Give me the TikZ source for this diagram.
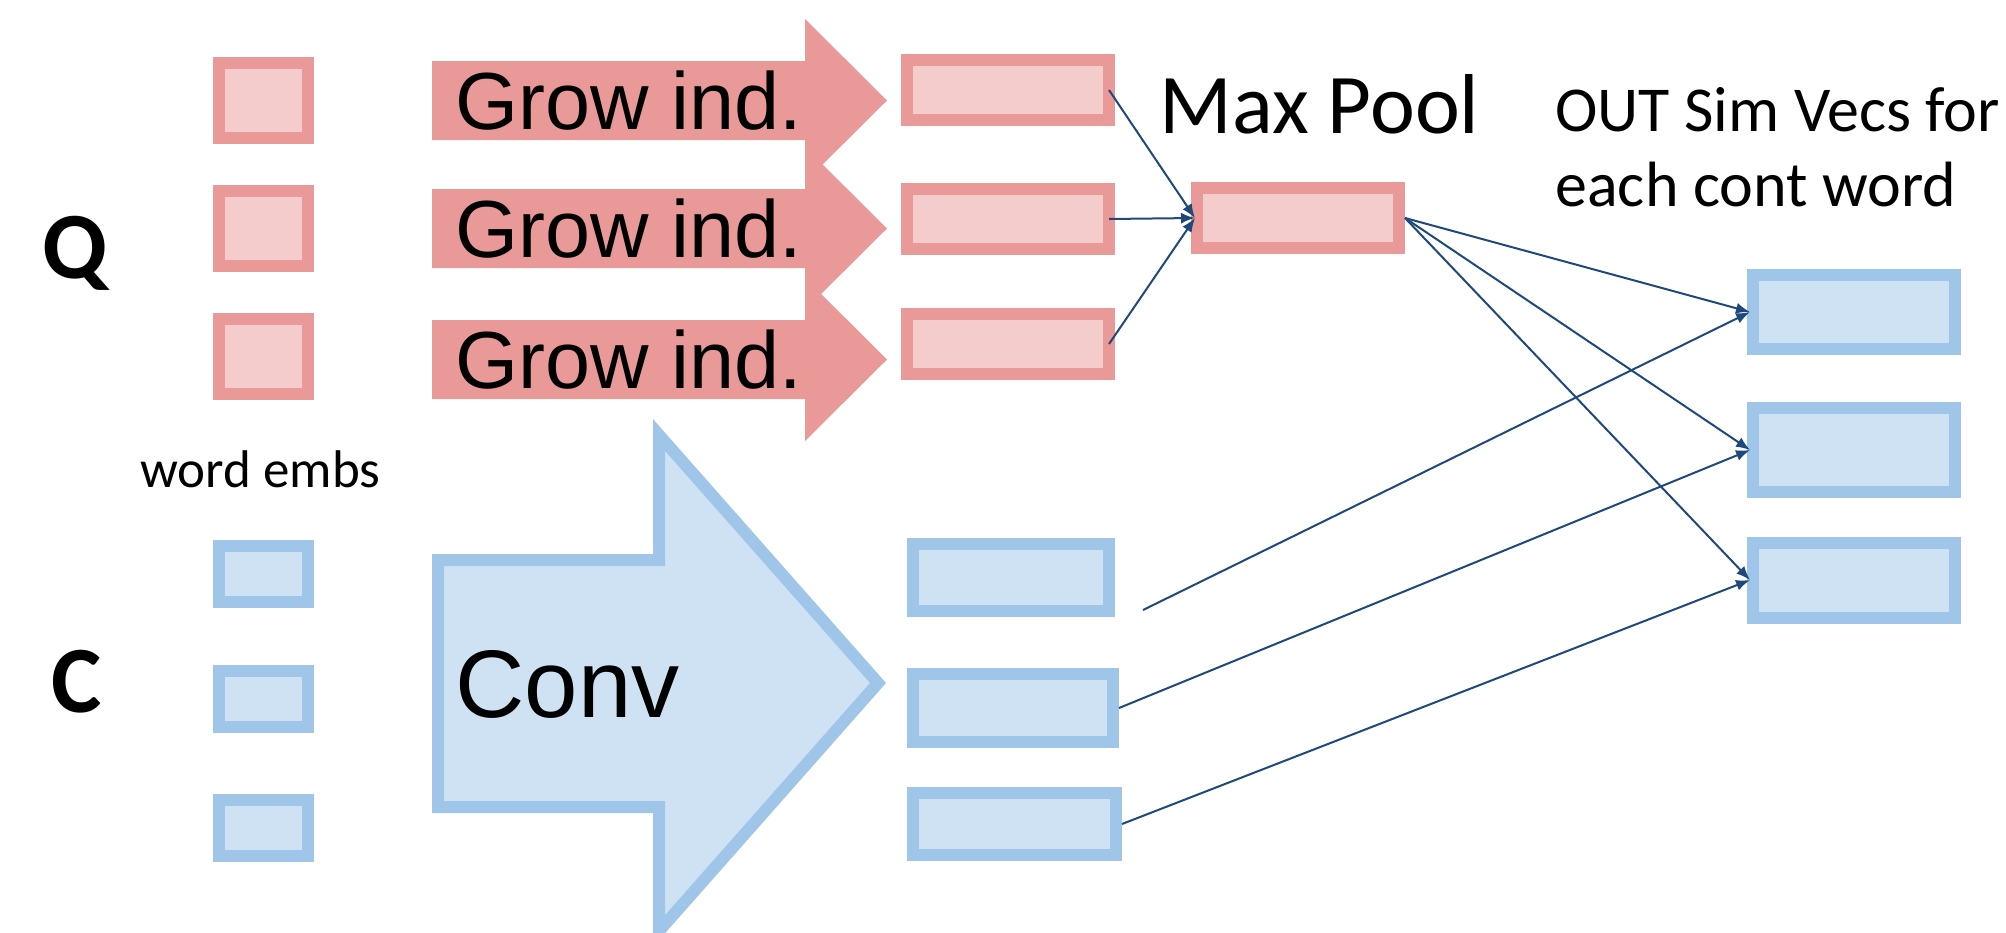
\documentclass[tikz,border=0pt]{standalone}
\usepackage{fontspec}
\setmainfont{Carlito}
\newfontfamily\arialf{Liberation Sans}
\usetikzlibrary{arrows.meta}
\definecolor{rb}{HTML}{EA9999}
\definecolor{rf}{HTML}{F4CCCC}
\definecolor{bb}{HTML}{9FC5E8}
\definecolor{bf}{HTML}{CFE2F3}
\definecolor{ln}{HTML}{1F497D}
\begin{document}
\begin{tikzpicture}[x=0.5pt,y=-0.5pt,
  box/.style={line width=6pt, inner sep=0pt, minimum width=101pt, minimum height=30pt},
  redbox/.style={box, draw=rb, fill=rf},
  bluebox/.style={box, draw=bb, fill=bf},
  qbox/.style={redbox, minimum width=44.5pt, minimum height=37.5pt},
  cbox/.style={bluebox, minimum width=44.5pt, minimum height=28pt},
  conn/.style={draw=ln, line width=1pt, -{Latex[length=7pt,width=5.5pt]}},
  growtxt/.style={font=\arialf\fontsize{40.5}{40.5}\selectfont, inner sep=0pt, anchor=base west},
  lbl/.style={inner sep=0pt, anchor=base west}
]
\clip (0,0) rectangle (2006,932);
\fill[white] (0,0) rectangle (2006,932);

% Grow ind. arrows
\foreach \c in {100.5,228.5,359.5}{
  \fill[rb] (432,{\c-39.5}) -- (805,{\c-39.5}) -- (805,{\c-81.5}) -- (887,\c)
    -- (805,{\c+81.5}) -- (805,{\c+39.5}) -- (432,{\c+39.5}) -- cycle;
}
\node[growtxt] (g1) at (455,129) {Grow ind.};
\node[growtxt] (g2) at (455,257) {Grow ind.};
\node[growtxt] (g3) at (455,388) {Grow ind.};

% Conv arrow
\draw[draw=bb, fill=bf, line width=6pt, line join=miter]
  (438,560) -- (659,560) -- (659,435) -- (878,683) -- (659,931)
  -- (659,807) -- (438,807) -- cycle;
\node[font=\arialf\fontsize{48}{48}\selectfont, lbl] (conv) at (455,717) {Conv};

% labels
\node[font=\bfseries\fontsize{47.5}{47.5}\selectfont, inner sep=0pt, anchor=base] (qlab) at (75,278) {Q};
\node[font=\bfseries\fontsize{47.5}{47.5}\selectfont, inner sep=0pt, anchor=base] (clab) at (77,712) {C};
\node[font=\fontsize{26.5}{26.5}\selectfont, lbl] (we) at (140,487) {word embs};
\node[font=\fontsize{42.5}{42.5}\selectfont, lbl] (mptxt) at (1159,133) {Max Pool};
\node[font=\fontsize{32}{32}\selectfont, lbl] (out1) at (1555,131) {OUT Sim Vecs for};
\node[font=\fontsize{32}{32}\selectfont, lbl] (out2) at (1555,206) {each cont word};

% word embedding boxes
\node[qbox] (q1) at (263.5,100.5) {};
\node[qbox] (q2) at (263.5,228.5) {};
\node[qbox] (q3) at (263.5,356) {};
\node[cbox] (w1) at (263.5,574) {};
\node[cbox] (w2) at (263.5,699) {};
\node[cbox] (w3) at (263.5,827.5) {};

% middle column
\node[redbox] (r1) at (1008,90) {};
\node[redbox] (r2) at (1008,219) {};
\node[redbox] (r3) at (1008,344) {};
\node[redbox] (mp) at (1298,218) {};
\node[bluebox, minimum width=98pt, minimum height=33.5pt] (b1) at (1011,577) {};
\node[bluebox, minimum width=100pt, minimum height=34pt] (b2) at (1013,708) {};
\node[bluebox, minimum width=101.5pt, minimum height=31pt] (b3) at (1014.5,824) {};

% output boxes
\node[bluebox, minimum height=37pt] (o1) at (1854,312) {};
\node[bluebox, minimum height=42pt] (o2) at (1854,450) {};
\node[bluebox, minimum height=37.5pt] (o3) at (1854,580) {};

\coordinate (b1s) at (1143,610);

% connectors
\draw[conn] ([xshift=-3pt]r1.east) -- ([xshift=2pt]mp.west);
\draw[conn] ([xshift=-3pt]r2.east) -- ([xshift=2pt]mp.west);
\draw[conn] ([xshift=-3pt]r3.east) -- ([xshift=2pt]mp.west);
\draw[conn] (mp.east) -- ([xshift=1.5pt]o1.west);
\draw[conn] (mp.east) -- ([xshift=1.5pt]o2.west);
\draw[conn] (mp.east) -- ([xshift=1.5pt]o3.west);
\draw[conn] (b1s) -- ([xshift=1.5pt]o1.west);
\draw[conn] (b2.east) -- ([xshift=1.5pt]o2.west);
\draw[conn] (b3.east) -- ([xshift=1.5pt]o3.west);
\end{tikzpicture}
\end{document}
